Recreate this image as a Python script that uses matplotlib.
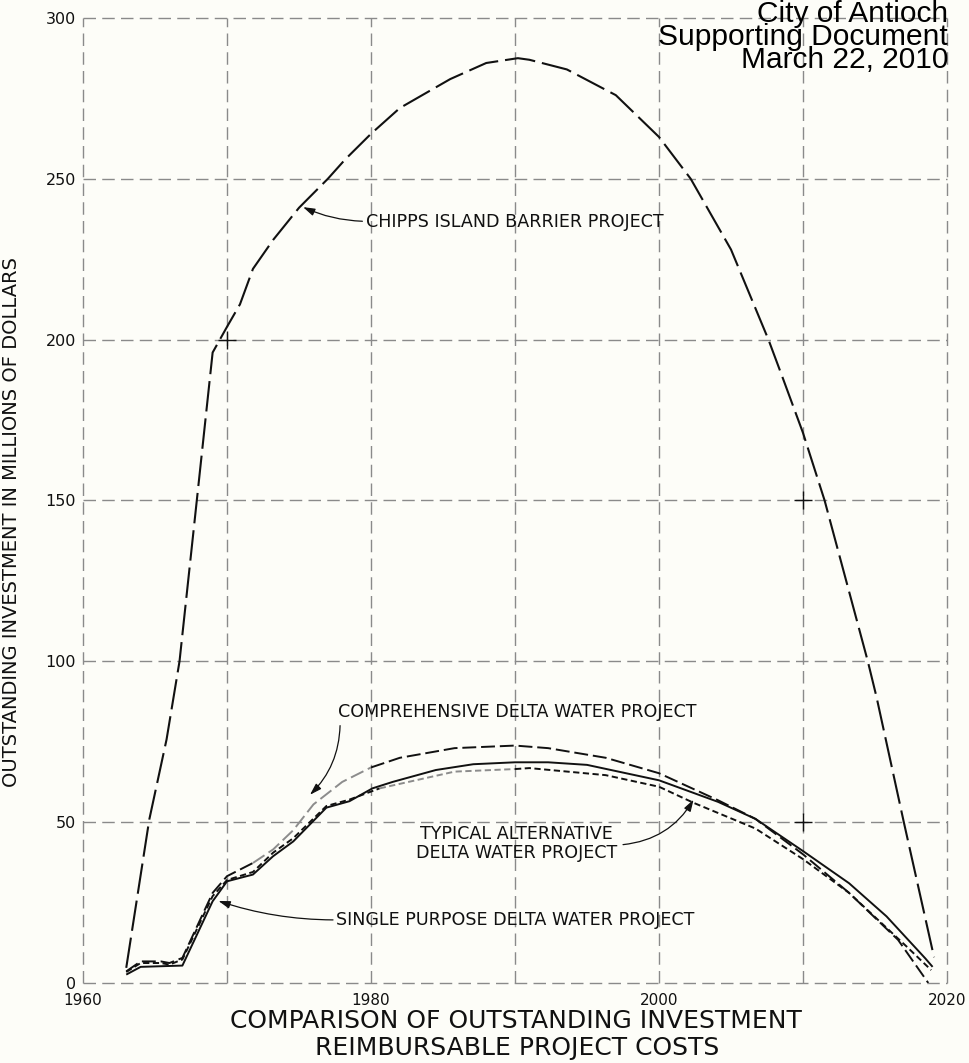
import matplotlib
matplotlib.use("Agg")
import matplotlib.pyplot as plt

plt.rcParams['lines.scale_dashes'] = False
plt.rcParams['font.family'] = ['DejaVu Sans']

# ---- data -------------------------------------------------------------
x_ticks = [1960, 1980, 2000, 2020]
x_tick_labels = ["1960", "1980", "2000", "2020"]
y_ticks = [0, 50, 100, 150, 200, 250, 300]
y_tick_labels = ["0", "50", "100", "150", "200", "250", "300"]

chipps_years = [1963.0, 1964.6, 1965.8, 1966.7, 1967.9, 1969.0, 1970.0, 1970.9,
                1971.8, 1973.2, 1975.0, 1977.0, 1978.2, 1980.0, 1982.0, 1985.5,
                1988.0, 1990.2, 1991.0, 1993.6, 1997.0, 2000.0, 2002.2, 2005.0,
                2007.6, 2008.6, 2010.0, 2011.5, 2014.5, 2015.1, 2017.0, 2019.1]
chipps_vals = [4.7, 50.8, 75.7, 100, 150, 196, 204, 211,
               222, 231, 241, 250, 256, 264, 272, 281,
               286, 287.5, 287, 284, 276, 263, 250, 228,
               200, 188, 171, 150, 100, 89, 50, 8]

comp_years = [1963.0, 1964.0, 1965.4, 1966.0, 1966.9, 1969.0, 1970.0, 1971.8,
              1973.2, 1974.6, 1976.0, 1978.0, 1980.0, 1982.0, 1985.8, 1990.0,
              1992.3, 1996.3, 2000.0, 2004.1, 2006.7, 2010.0, 2013.2, 2016.6, 2018.7]
comp_vals = [3.6, 6.7, 6.7, 6.2, 7.8, 28, 33.2, 37.3,
             41.5, 47.5, 55.5, 62.5, 67, 70, 73, 73.8,
             73, 70, 65.2, 56.8, 51, 40, 28, 13.4, 0]

typical_years = [1963.0, 1964.0, 1965.4, 1966.0, 1966.9, 1969.0, 1970.0, 1971.8,
                 1973.2, 1974.6, 1976.9, 1978.5, 1980.6, 1985.8, 1990.0, 1991.0,
                 1996.3, 2000.0, 2002.4, 2006.7, 2010.0, 2013.2, 2017.2, 2018.9]
typical_vals = [3.4, 6.2, 6.2, 5.7, 7.3, 27, 32, 34.5,
                40.5, 45, 55, 57, 60.5, 65.7, 66.5, 66.8,
                64.6, 61, 56, 48, 38.5, 28, 11.3, 4]

single_years = [1963.0, 1964.0, 1965.4, 1966.9, 1969.0, 1970.0, 1971.8, 1973.2,
                1974.6, 1976.9, 1978.5, 1980.1, 1981.5, 1984.5, 1987.1, 1990.0,
                1992.3, 1995.0, 2000.0, 2004.1, 2006.7, 2010.0, 2013.2, 2015.8,
                2018.5, 2019.0]
single_vals = [2.6, 5.0, 5.2, 5.4, 25.4, 31.6, 33.7, 39.4,
               44, 54.5, 56.5, 60.5, 62.5, 66.2, 68, 68.6,
               68.6, 67.8, 63, 56.3, 51, 41, 31, 20.7,
               7.6, 5]

header_lines = ["City of Antioch", "Supporting Document", "March 22, 2010"]
title_lines = ["COMPARISON OF OUTSTANDING INVESTMENT", "REIMBURSABLE PROJECT COSTS"]
y_label = "OUTSTANDING INVESTMENT IN MILLIONS OF DOLLARS"

# ---- figure -----------------------------------------------------------
paper = '#fdfdf8'
ink = '#111111'
grid_col = '#8a8a8a'

fig = plt.figure(figsize=(9.69, 10.63), dpi=100)
fig.patch.set_facecolor(paper)
ax = fig.add_axes([0.0857, 0.0753, 0.8916, 0.9078])
ax.set_facecolor(paper)
ax.set_xlim(1960, 2020)
ax.set_ylim(0, 300)
for s in ax.spines.values():
    s.set_visible(False)

ax.set_xticks(x_ticks)
ax.set_xticklabels(x_tick_labels, fontsize=11, color=ink)
ax.set_yticks(y_ticks)
ax.set_yticklabels(y_tick_labels, fontsize=11.5, color=ink)
ax.tick_params(axis='both', length=0)
ax.tick_params(axis='y', pad=5)
ax.tick_params(axis='x', pad=7)

# dashed grid, frame included
grid_kw = dict(color=grid_col, lw=1.0, dashes=(9, 4.5), zorder=1, clip_on=False)
for gx in range(1960, 2021, 10):
    ax.axvline(gx, **grid_kw)
for gy in range(0, 301, 50):
    ax.axhline(gy, **grid_kw)

# small registration crosses on the grid
for cx, cy in [(1970, 200), (2010, 150), (2010, 50)]:
    ax.plot([cx], [cy], marker='+', ms=13, mew=1.0, color=ink, zorder=3)


def draw_series(xs, ys, dashes, pieces, lw=1.4):
    for i0, i1, col in pieces:
        kw = dict(color=col, lw=lw, zorder=4, solid_capstyle='butt')
        if dashes is None:
            ax.plot(xs[i0:i1 + 1], ys[i0:i1 + 1], '-', **kw)
        else:
            ax.plot(xs[i0:i1 + 1], ys[i0:i1 + 1], dashes=dashes,
                    dash_capstyle='butt', **kw)


n = len(chipps_years)
draw_series(chipps_years, chipps_vals, (22, 5), [(0, n - 1, ink)], lw=1.5)

n = len(comp_years)
draw_series(comp_years, comp_vals, (10, 3.5),
            [(0, 7, ink), (7, 12, '#8c8c8c'), (12, n - 1, ink)])

n = len(typical_years)
draw_series(typical_years, typical_vals, (4.5, 2.5),
            [(0, 12, ink), (12, 14, '#8c8c8c'), (14, n - 1, ink)])

n = len(single_years)
draw_series(single_years, single_vals, None, [(0, n - 1, ink)])

# ---- labels with leader arrows ---------------------------------------
lab_kw = dict(fontsize=12.6, color=ink, zorder=6)
arrow_kw = dict(arrowstyle='-|>,head_length=0.7,head_width=0.22', color=ink, lw=0.9,
                shrinkA=0, shrinkB=0)

ax.text(1979.65, 236.5, "CHIPPS ISLAND BARRIER PROJECT", ha='left', va='center', **lab_kw)
ax.annotate('', xy=(1975.28, 241.2), xytext=(1979.4, 236.8),
            arrowprops=dict(connectionstyle='arc3,rad=-0.1', **arrow_kw))

ax.text(1977.7, 84.3, "COMPREHENSIVE DELTA WATER PROJECT", ha='left', va='center', **lab_kw)
ax.annotate('', xy=(1975.76, 58.5), xytext=(1977.85, 80.0),
            arrowprops=dict(connectionstyle='arc3,rad=-0.2', **arrow_kw))

ax.text(1990.1, 46.3, "TYPICAL ALTERNATIVE", ha='center', va='center', **lab_kw)
ax.text(1990.1, 40.3, "DELTA WATER PROJECT", ha='center', va='center', **lab_kw)
ax.annotate('', xy=(2002.4, 57.0), xytext=(1997.5, 43.0),
            arrowprops=dict(connectionstyle='arc3,rad=0.25', **arrow_kw))

ax.text(1977.57, 19.6, "SINGLE PURPOSE DELTA WATER PROJECT", ha='left', va='center', **lab_kw)
ax.annotate('', xy=(1969.4, 25.5), xytext=(1977.36, 19.6),
            arrowprops=dict(connectionstyle='arc3,rad=-0.08', **arrow_kw))

# ---- axis title, chart title, header ---------------------------------
fig.text(0.0114, 0.509, y_label, rotation=90, ha='center', va='center',
         fontsize=14, color=ink)

fig.text(0.532, 1 - 1021 / 1063, title_lines[0], ha='center', va='center',
         fontsize=18, color=ink)
fig.text(0.534, 1 - 1048 / 1063, title_lines[1], ha='center', va='center',
         fontsize=18, color=ink)

fig.text(948 / 969, 1 - 73.5 / 1063, "\n".join(header_lines), ha='right', va='bottom',
         multialignment='right', linespacing=0.75, fontsize=21.5, color='black',
         family=['Liberation Sans', 'DejaVu Sans'], zorder=10)

fig.savefig("out.png", dpi=100, facecolor=paper)
